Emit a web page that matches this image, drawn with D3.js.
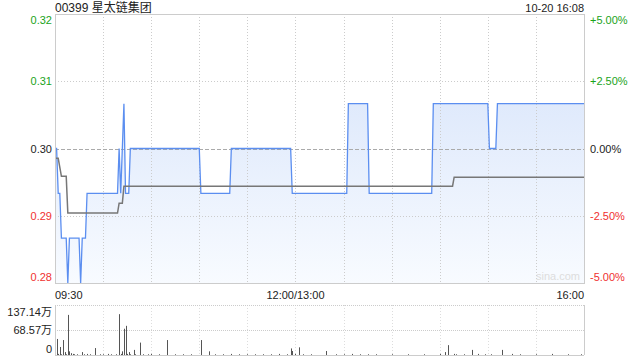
<!DOCTYPE html>
<meta charset="utf-8">
<head>
  <meta charset="UTF-8" />
  <title>00399</title>
  <script src="https://d3js.org/d3.v7.min.js"></script>
</head>
<style>
  body { margin: 0; background: #fff; }
  text { font-family: "Liberation Sans", Arial, "Noto Sans CJK SC", sans-serif; font-size: 11px; }
</style>
<div id="chart"></div>
<script>
  // price series, minutes since 09:30 (trading minutes, lunch removed)
  var priceMinutes = [0, 1, 2, 3, 4, 7, 8, 9, 15, 16, 17, 19, 20, 39, 40, 41, 43, 44, 46, 47,
                      90, 91, 109, 110, 147, 148, 182, 183, 195, 196, 235, 236, 270, 271, 275, 276, 330]
  var prices = [0.30, 0.30, 0.295, 0.295, 0.29, 0.29, 0.285, 0.29, 0.29, 0.285, 0.29, 0.29, 0.295, 0.295, 0.30, 0.295, 0.305, 0.295, 0.295, 0.30,
                0.30, 0.295, 0.295, 0.30, 0.30, 0.295, 0.295, 0.305, 0.305, 0.295, 0.295, 0.305, 0.305, 0.30, 0.30, 0.305, 0.305]

  // average price
  var avgMinutes = [0, 2, 4, 7, 8, 39, 40, 42, 43, 248, 249, 330]
  var avgPrices = [0.2989, 0.2989, 0.2969, 0.2969, 0.2928, 0.2928, 0.2939, 0.2939, 0.2958, 0.2958, 0.2968, 0.2968]

  // volume (万)
  var volMinutes = [1, 2, 3, 4, 5, 6, 7, 8, 9, 10, 11, 12, 14, 17, 18, 20, 22, 25, 28, 30, 33, 35, 38, 40, 41, 42, 43, 44, 45, 46, 47, 49, 50, 53, 55, 58, 60, 65, 70, 75, 80, 85,
                    91, 96, 100, 105, 110, 115, 120, 125, 130, 135, 140, 145, 147, 148, 150, 152, 155, 160, 169, 175, 180, 185, 190, 195, 200, 210, 220, 230, 240,
                    243, 245, 249, 250, 255, 260, 264, 268, 272, 279, 285, 290, 300, 310, 320, 328]
  var volumes = [44, 3, 22, 2, 41, 8, 2, 110, 10, 5, 3, 2, 2, 8, 2, 3, 2, 19, 2, 2, 3, 2, 2, 112, 3, 10, 72, 80, 3, 8, 2, 14, 2, 34, 2, 2, 3, 2, 41, 2, 2, 2,
                 41, 10, 2, 2, 3, 2, 2, 2, 2, 2, 3, 2, 18, 11, 3, 21, 2, 2, 11, 2, 2, 3, 2, 2, 2, 2, 2, 2, 3,
                 8, 27, 3, 2, 2, 14, 3, 2, 2, 14, 3, 2, 2, 3, 2, 2]

  var priceTicks = [0.315, 0.3075, 0.30, 0.2925, 0.285]
  var priceLabels = ["0.32", "0.31", "0.30", "0.29", "0.28"]
  var pctLabels = ["+5.00%", "+2.50%", "0.00%", "-2.50%", "-5.00%"]
  var volTicks = [137.14, 68.57, 0]
  var volLabels = ["137.14万", "68.57万", "0"]
  var timeTicks = [0, 150, 330]
  var timeLabels = ["09:30", "12:00/13:00", "16:00"]

  var width = 640, height = 360
  var pLeft = 55, pRight = 584, pTop = 14, pBottom = 283
  var vTop = 305, vBottom = 355

  var svg = d3.select("#chart").append("svg")
    .attr("width", width).attr("height", height)

  var x = d3.scaleLinear().domain([0, 330]).range([pLeft, pRight])
  var y = d3.scaleLinear().domain([0.285, 0.315]).range([pBottom, pTop])
  var yv = d3.scaleLinear().domain([0, 137.14]).range([vBottom, vTop])

  var grad = svg.append("defs").append("linearGradient")
    .attr("id", "fillGrad")
    .attr("gradientUnits", "userSpaceOnUse")
    .attr("x1", 0).attr("y1", pTop).attr("x2", 0).attr("y2", pBottom)
  grad.append("stop").attr("offset", "0%").attr("stop-color", "#d3e1fa")
  grad.append("stop").attr("offset", "100%").attr("stop-color", "#f8fbff")

  var colorFor = (i) => i < 2 ? "#1aa31a" : (i == 2 ? "#222" : "#f03030")

  // area + price line
  var pts = priceMinutes.map((m, i) => [m, prices[i]])
  svg.append("path")
    .datum(pts)
    .attr("d", d3.area().x(d => x(d[0])).y0(pBottom).y1(d => y(d[1])))
    .style("fill", "url(#fillGrad)")

  // vertical grid every 30 minutes
  var vLines = d3.range(30, 330, 30)
  svg.selectAll(".vgrid").data(vLines).join("line")
    .attr("x1", d => Math.round(x(d)) + 0.5).attr("x2", d => Math.round(x(d)) + 0.5)
    .attr("y1", pTop).attr("y2", pBottom)
    .style("stroke", "#ccc").style("stroke-dasharray", "1,2")
  svg.selectAll(".vgrid2").data(vLines).join("line")
    .attr("x1", d => Math.round(x(d)) + 0.5).attr("x2", d => Math.round(x(d)) + 0.5)
    .attr("y1", vTop).attr("y2", vBottom)
    .style("stroke", "#ddd").style("stroke-dasharray", "1,2")

  // horizontal grid
  svg.selectAll(".hgrid").data(priceTicks.slice(1, 4)).join("line")
    .attr("x1", pLeft).attr("x2", pRight)
    .attr("y1", d => Math.round(y(d)) + 0.5).attr("y2", d => Math.round(y(d)) + 0.5)
    .style("stroke", (d, i) => i == 1 ? "#aaa" : "#ccc")
    .style("stroke-dasharray", (d, i) => i == 1 ? "4,2" : "1,2")

  svg.append("path")
    .datum(pts)
    .attr("d", d3.line().x(d => x(d[0])).y(d => y(d[1])))
    .style("fill", "none").style("stroke", "#5b8ef0").style("stroke-width", 1.3)

  var avgPts = avgMinutes.map((m, i) => [m, avgPrices[i]])
  svg.append("path")
    .datum(avgPts)
    .attr("d", d3.line().x(d => x(d[0])).y(d => y(d[1])))
    .style("fill", "none").style("stroke", "#777").style("stroke-width", 1.5)

  // border
  svg.append("rect")
    .attr("x", pLeft + 0.5).attr("y", pTop + 0.5)
    .attr("width", pRight - pLeft).attr("height", pBottom - pTop)
    .style("fill", "none").style("stroke", "#ccc")

  svg.append("text")
    .attr("x", pRight - 4).attr("y", pBottom - 3)
    .attr("text-anchor", "end")
    .style("fill", "#ddd").style("font-size", "11px")
    .text("sina.com")

  // left / right labels
  var labelY = (d, i) => y(d) + 4 + (i == 0 ? 6 : (i == 4 ? -6 : 0))
  svg.selectAll(".pl").data(priceTicks).join("text")
    .attr("x", pLeft - 3).attr("y", labelY)
    .attr("text-anchor", "end")
    .style("fill", (d, i) => colorFor(i))
    .text((d, i) => priceLabels[i])
  svg.selectAll(".pr").data(priceTicks).join("text")
    .attr("x", pRight + 6).attr("y", labelY)
    .style("fill", (d, i) => colorFor(i))
    .text((d, i) => pctLabels[i])

  // time labels
  svg.selectAll(".tl").data(timeTicks).join("text")
    .attr("x", d => x(d)).attr("y", 299)
    .attr("text-anchor", (d, i) => ["start", "middle", "end"][i])
    .style("fill", "#222")
    .text((d, i) => timeLabels[i])

  // title
  svg.append("text").attr("x", pLeft).attr("y", 12)
    .style("font-size", "12px").style("fill", "#222")
    .style("font-family", "'Liberation Sans', 'Noto Sans CJK SC', sans-serif")
    .text("00399 星太链集团")
  svg.append("text").attr("x", pRight).attr("y", 12)
    .attr("text-anchor", "end").style("fill", "#222")
    .text("10-20 16:08")

  // volume panel
  svg.selectAll(".vg").data([volTicks[0], volTicks[1]]).join("line")
    .attr("x1", pLeft).attr("x2", pRight)
    .attr("y1", d => Math.round(yv(d)) + 0.5).attr("y2", d => Math.round(yv(d)) + 0.5)
    .style("stroke", "#ccc").style("stroke-dasharray", "1,1")
  svg.append("line").attr("x1", pLeft + 0.5).attr("x2", pLeft + 0.5)
    .attr("y1", vTop).attr("y2", vBottom).style("stroke", "#ccc")
  svg.append("line").attr("x1", pRight + 0.5).attr("x2", pRight + 0.5)
    .attr("y1", vTop).attr("y2", vBottom).style("stroke", "#ccc")
  svg.append("line").attr("x1", pLeft).attr("x2", pRight)
    .attr("y1", vBottom + 0.5).attr("y2", vBottom + 0.5).style("stroke", "#ccc")

  svg.selectAll(".vb").data(volMinutes).join("line")
    .attr("x1", d => Math.round(x(d)) + 0.5).attr("x2", d => Math.round(x(d)) + 0.5)
    .attr("y1", vBottom).attr("y2", (d, i) => yv(volumes[i]))
    .style("stroke", "#555")

  svg.selectAll(".vl").data(volTicks).join("text")
    .attr("x", pLeft - 3)
    .attr("y", (d, i) => yv(d) + 4 + (i == 0 ? 7 : (i == 2 ? -6 : 0)))
    .attr("text-anchor", "end").style("fill", "#222")
    .text((d, i) => volLabels[i])
</script>
